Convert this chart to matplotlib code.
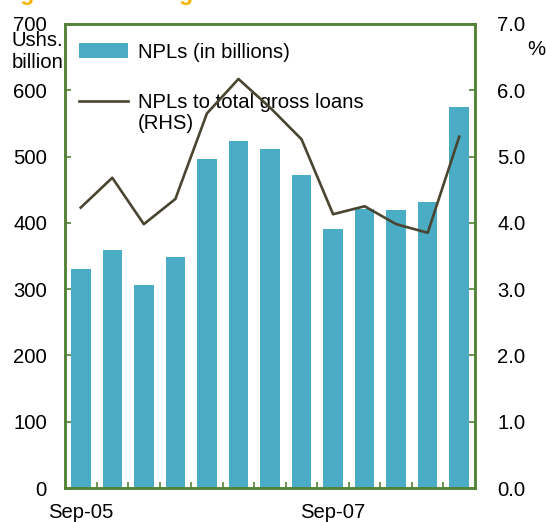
import matplotlib.pyplot as plt
import numpy as np

plt.rcParams['font.family'] = ['Liberation Sans', 'DejaVu Sans']

quarters = ['Sep-05', 'Dec-05', 'Mar-06', 'Jun-06', 'Sep-06', 'Dec-06', 'Mar-07',
            'Jun-07', 'Sep-07', 'Dec-07', 'Mar-08', 'Jun-08', 'Sep-08']
npls_bn = [330, 359, 306, 348, 497, 524, 511, 472, 391, 421, 419, 431, 574]
npl_ratio = [4.23, 4.68, 3.98, 4.36, 5.65, 6.17, 5.74, 5.26, 4.13, 4.25, 3.98, 3.85, 5.30]
shown_labels = ['Sep-05', 'Sep-07']

green = '#538135'
bar_col = '#4bacc6'
line_col = '#4a4530'
fs = 14.6

fig = plt.figure(figsize=(5.46, 5.22), dpi=100)
ax1 = fig.add_axes([0.119, 0.0651, 0.751, 0.889])
ax2 = ax1.twinx()

x = np.arange(len(quarters))
ax1.bar(x, npls_bn, width=0.62, color=bar_col, label='NPLs (in billions)', zorder=2)
ax2.plot(x, npl_ratio, color=line_col, lw=1.9, label='NPLs to total gross loans')

ax1.set_xlim(-0.5, len(quarters) - 0.5)
ax1.set_ylim(0, 700)
ax2.set_ylim(0, 7)
ax1.set_yticks(range(0, 701, 100))
ax2.set_yticks(np.arange(0, 7.1, 1.0))
ax2.set_yticklabels([f'{v:.1f}' for v in np.arange(0, 7.1, 1.0)])

# labels only on selected quarters, small ticks between quarters
ax1.set_xticks([quarters.index(q) for q in shown_labels])
ax1.set_xticklabels(shown_labels)
ax1.set_xticks(np.arange(0.5, len(quarters) - 1, 1.0), minor=True)
ax1.tick_params(axis='x', which='major', length=0, pad=11, labelsize=fs)
ax1.tick_params(axis='x', which='minor', direction='in', length=4, color=green, width=1.2)
ax1.tick_params(axis='y', direction='in', length=4, color=green, width=1.2,
                pad=13, labelsize=fs)
ax2.tick_params(axis='y', direction='in', length=4, color=green, width=1.2,
                pad=16, labelsize=fs)

for ax in (ax1, ax2):
    for s in ax.spines.values():
        s.set_color(green)
        s.set_linewidth(1.8)

fig.text(0.068, 0.94, 'Ushs.\nbillion', fontsize=fs, ha='center', va='top',
         multialignment='center', linespacing=1.2)
fig.text(0.965, 0.924, '%', fontsize=fs, ha='left', va='top')

h1, l1 = ax1.get_legend_handles_labels()
h2, l2 = ax2.get_legend_handles_labels()
leg = ax1.legend(h1 + h2, l1 + l2, loc='upper left', frameon=False, fontsize=fs,
                 handlelength=2.4, handleheight=0.75, handletextpad=0.5,
                 labelspacing=1.55, borderaxespad=0.3, bbox_to_anchor=(0.0, 0.99))

# second line of the ratio label sits under its legend entry
fig.canvas.draw()
bb = leg.get_texts()[1].get_window_extent().transformed(fig.transFigure.inverted())
fig.text(bb.x0, bb.y0 - 0.003, '(RHS)', fontsize=fs, ha='left', va='top')

# title line cut off at the top edge
fig.text(0.0, 1.0, 'Figure 6: Banking sector NPLs', fontsize=16.5,
         fontweight='bold', color='#f5b400', ha='left', va='baseline')

fig.savefig('out.png', dpi=100)
